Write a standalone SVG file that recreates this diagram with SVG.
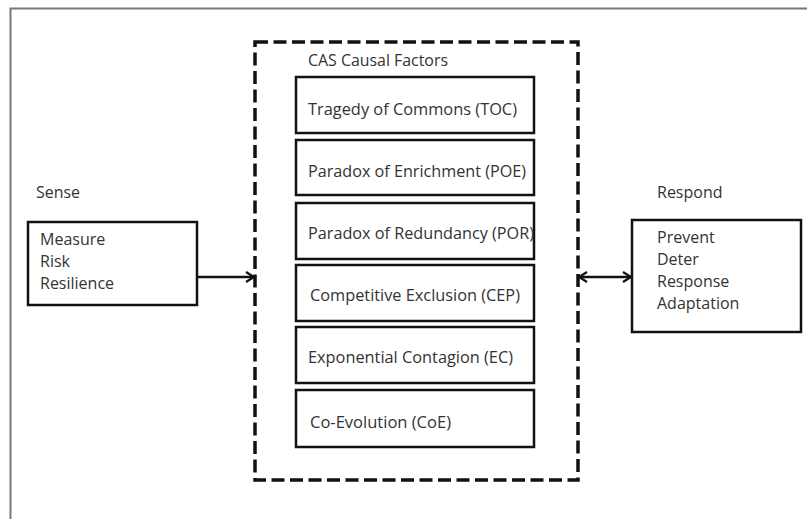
<svg xmlns="http://www.w3.org/2000/svg" width="807" height="519" viewBox="0 0 807 519">
  <style>
    .lbl { font-family: "Open Sans", "Liberation Sans", sans-serif; font-size: 16px; fill: #333; }
    .box { fill: #fff; stroke: #111; stroke-width: 2.5; }
    .conn { stroke: #111; stroke-width: 2.5; fill: none; }
  </style>
  <defs>
    <marker id="chev" viewBox="0 0 12 12" refX="10" refY="6" markerWidth="12" markerHeight="12" markerUnits="userSpaceOnUse" orient="auto-start-reverse">
      <path d="M2,1 L10,6 L2,11" fill="none" stroke="#111" stroke-width="2.2"/>
    </marker>
  </defs>

  <rect width="807" height="519" fill="#fff"/>
  <!-- page frame -->
  <path d="M10.5,519 V8.5 H807" fill="none" stroke="#777" stroke-width="2"/>

  <!-- causal factor container -->
  <g id="cas">
    <rect x="255" y="42" width="323" height="438" fill="none" stroke="#111" stroke-width="3.5" stroke-dasharray="13,5.5"/>
    <text class="lbl" x="308" y="66" textLength="140" lengthAdjust="spacingAndGlyphs">CAS Causal Factors</text>
  </g>

  <g id="toc">
    <rect class="box" x="296" y="77" width="238" height="56"/>
    <text class="lbl" x="308" y="115" textLength="209" lengthAdjust="spacingAndGlyphs">Tragedy of Commons (TOC)</text>
  </g>
  <g id="poe">
    <rect class="box" x="296" y="140" width="238" height="55"/>
    <text class="lbl" x="308" y="177" textLength="218" lengthAdjust="spacingAndGlyphs">Paradox of Enrichment (POE)</text>
  </g>
  <g id="por">
    <rect class="box" x="296" y="203" width="238" height="56"/>
    <text class="lbl" x="308" y="239" textLength="226" lengthAdjust="spacingAndGlyphs">Paradox of Redundancy (POR)</text>
  </g>
  <g id="cep">
    <rect class="box" x="296" y="265" width="238" height="56"/>
    <text class="lbl" x="310" y="301" textLength="210" lengthAdjust="spacingAndGlyphs">Competitive Exclusion (CEP)</text>
  </g>
  <g id="ec">
    <rect class="box" x="296" y="327" width="238" height="56"/>
    <text class="lbl" x="308" y="363" textLength="205" lengthAdjust="spacingAndGlyphs">Exponential Contagion (EC)</text>
  </g>
  <g id="coe">
    <rect class="box" x="296" y="390" width="238" height="57"/>
    <text class="lbl" x="310" y="428" textLength="141" lengthAdjust="spacingAndGlyphs">Co-Evolution (CoE)</text>
  </g>

  <g id="sense">
    <text class="lbl" x="36" y="198" textLength="44" lengthAdjust="spacingAndGlyphs">Sense</text>
    <rect class="box" x="28" y="222" width="169" height="83"/>
    <text class="lbl" x="40" y="245">Measure</text>
    <text class="lbl" x="40" y="267">Risk</text>
    <text class="lbl" x="40" y="289">Resilience</text>
  </g>

  <g id="respond">
    <text class="lbl" x="657" y="198">Respond</text>
    <rect class="box" x="632" y="220" width="169" height="112"/>
    <text class="lbl" x="657" y="243">Prevent</text>
    <text class="lbl" x="657" y="265">Deter</text>
    <text class="lbl" x="657" y="287">Response</text>
    <text class="lbl" x="657" y="309">Adaptation</text>
  </g>

  <g id="connectors">
    <line class="conn" x1="197" y1="277" x2="254" y2="277" marker-end="url(#chev)"/>
    <line class="conn" x1="579" y1="277" x2="631" y2="277" marker-start="url(#chev)" marker-end="url(#chev)"/>
  </g>
</svg>
